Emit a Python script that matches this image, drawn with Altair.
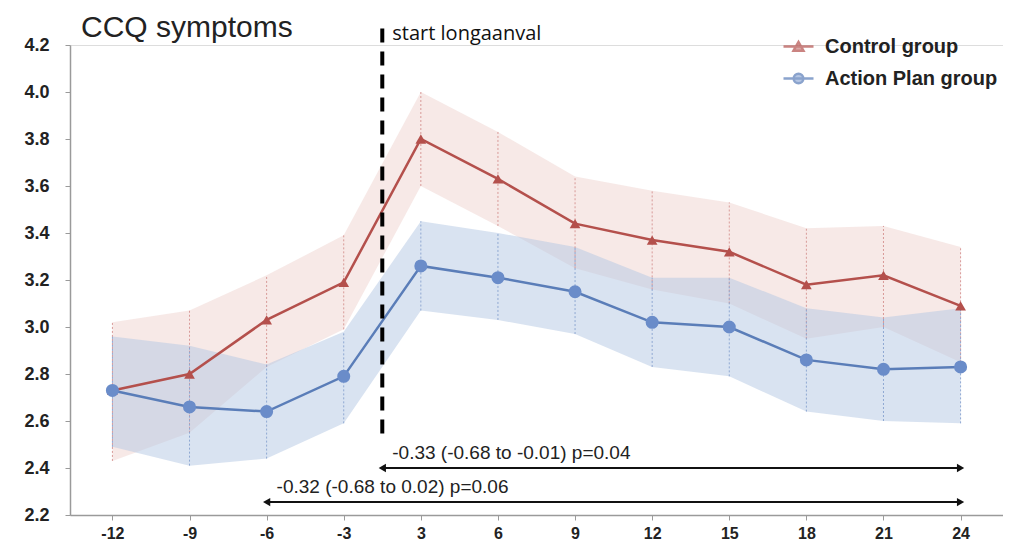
import altair as alt
import pandas as pd

# ---- data ----
months = [-12, -9, -6, -3, 3, 6, 9, 12, 15, 18, 21, 24]
month_labels = ["-12", "-9", "-6", "-3", "3", "6", "9", "12", "15", "18", "21", "24"]

control_mean = [2.73, 2.80, 3.03, 3.19, 3.80, 3.63, 3.44, 3.37, 3.32, 3.18, 3.22, 3.09]
control_upper = [3.02, 3.07, 3.22, 3.39, 4.00, 3.83, 3.64, 3.58, 3.53, 3.42, 3.43, 3.34]
control_lower = [2.43, 2.55, 2.83, 2.99, 3.60, 3.43, 3.25, 3.16, 3.10, 2.95, 3.00, 2.85]

action_mean = [2.73, 2.66, 2.64, 2.79, 3.26, 3.21, 3.15, 3.02, 3.00, 2.86, 2.82, 2.83]
action_upper = [2.96, 2.92, 2.84, 2.98, 3.45, 3.40, 3.34, 3.21, 3.21, 3.08, 3.04, 3.08]
action_lower = [2.49, 2.41, 2.44, 2.59, 3.07, 3.03, 2.97, 2.83, 2.79, 2.64, 2.60, 2.59]

groups = ["Control group", "Action Plan group"]
y_ticks = [2.2, 2.4, 2.6, 2.8, 3.0, 3.2, 3.4, 3.6, 3.8, 4.0, 4.2]

# annotation values (data space: category index / y value)
start_index = 3.5          # between -3 and 3
start_label = "start longaanval"
start_top, start_bottom, start_text_y = 4.27, 2.52, 4.245

arrow_start = [3.5, 2.0]
arrow_end = [11.0, 11.0]
arrow_y = [2.40, 2.255]
arrow_text_y = [2.465, 2.318]
arrow_labels = ["-0.33 (-0.68 to -0.01) p=0.04", "-0.32 (-0.68 to 0.02) p=0.06"]

# ---- tables ----
rows = []
for g, mean, lo, up in [
    (groups[0], control_mean, control_lower, control_upper),
    (groups[1], action_mean, action_lower, action_upper),
]:
    for i, m in enumerate(months):
        rows.append({"idx": i, "month": m, "group": g, "mean": mean[i], "lower": lo[i], "upper": up[i]})
df = pd.DataFrame(rows)

arrows = pd.DataFrame({"x1": arrow_start, "x2": arrow_end, "y": arrow_y,
                       "ty": arrow_text_y, "label": arrow_labels})
start_df = pd.DataFrame({"x": [start_index], "top": [start_top], "bottom": [start_bottom],
                         "ty": [start_text_y], "label": [start_label]})

# ---- scales / axes ----
label_expr = "[" + ",".join("'%s'" % l for l in month_labels) + "][datum.value]"
xscale = alt.Scale(domain=[-0.55, len(months) - 0.45], nice=False, zero=False)
yscale = alt.Scale(domain=[2.2, 4.2], nice=False, zero=False)
xaxis = alt.Axis(values=list(range(len(months))), labelExpr=label_expr, title=None, grid=False,
                 domainColor="#9a9a9a", domainWidth=1.5, tickColor="#9a9a9a", tickSize=5,
                 labelFont="Liberation Sans", labelFontWeight="bold", labelFontSize=16,
                 labelColor="#222222", labelPadding=5)
yaxis = alt.Axis(values=y_ticks, format=".1f", title=None, grid=False,
                 domainColor="#9a9a9a", domainWidth=1.5, tickColor="#9a9a9a", tickSize=5,
                 labelFont="Liberation Sans", labelFontWeight="bold", labelFontSize=18,
                 labelColor="#222222", labelPadding=16)

X = alt.X("idx:Q", scale=xscale, axis=xaxis)

colors = {
    groups[0]: dict(line="#b4504c", band="#efd3cf", dots="#d89a98", mark="#b4504c", shape="triangle-up", size=115),
    groups[1]: dict(line="#5a7db8", band="#b4c7e4", dots="#8fa8d2", mark="#6a8cc9", shape="circle", size=170),
}

layers = []
for g in groups:
    c = colors[g]
    base = alt.Chart(df).transform_filter(alt.datum.group == g)
    layers.append(base.mark_area(color=c["band"], opacity=0.5).encode(
        x=X, y=alt.Y("lower:Q", scale=yscale, axis=yaxis), y2="upper:Q"))
for g in groups:
    c = colors[g]
    base = alt.Chart(df).transform_filter(alt.datum.group == g)
    layers.append(base.mark_rule(color=c["dots"], strokeWidth=1, strokeDash=[2, 2]).encode(
        x=X, y=alt.Y("lower:Q", scale=yscale, axis=yaxis), y2="upper:Q"))
for g in groups:
    c = colors[g]
    base = alt.Chart(df).transform_filter(alt.datum.group == g)
    layers.append(base.mark_line(color=c["line"], strokeWidth=2.5).encode(
        x=X, y=alt.Y("mean:Q", scale=yscale, axis=yaxis)))
    layers.append(base.mark_point(shape=c["shape"], filled=True, opacity=1, color=c["mark"], size=c["size"]).encode(
        x=X, y=alt.Y("mean:Q", scale=yscale, axis=yaxis)))

# legend (custom symbols: line with marker)
tri_path = "M-1,0L1,0M-0.33,0.28L0,-0.3L0.33,0.28Z"
circ_path = "M-1,0L1,0M-0.32,0A0.32,0.32,0,1,1,0.32,0A0.32,0.32,0,1,1,-0.32,0Z"
leg = alt.Legend(title=None, orient="none", legendX=712, legendY=-15,
                 labelFont="Liberation Sans", labelFontWeight="bold", labelFontSize=20,
                 labelColor="#222222", labelLimit=400, symbolSize=900, symbolStrokeWidth=2.5,
                 labelOffset=10, rowPadding=5)
legend_layer = alt.Chart(df).transform_filter("false").mark_point(filled=True, strokeWidth=2.5).encode(
    x=X, y=alt.Y("mean:Q", scale=yscale, axis=yaxis),
    fill=alt.Fill("group:N", scale=alt.Scale(domain=groups, range=["#b4504c", "#6a8cc9"]), legend=leg),
    stroke=alt.Stroke("group:N", scale=alt.Scale(domain=groups, range=["#b4504c", "#5a7db8"]), legend=leg),
    shape=alt.Shape("group:N", scale=alt.Scale(domain=groups, range=[tri_path, circ_path]), legend=leg),
)
layers.append(legend_layer)

# start line
sbase = alt.Chart(start_df)
layers.append(sbase.mark_rule(color="black", strokeWidth=4, strokeDash=[14, 9]).encode(
    x=alt.X("x:Q", scale=xscale, axis=xaxis), y=alt.Y("top:Q", scale=yscale, axis=yaxis), y2="bottom:Q"))
layers.append(sbase.mark_text(align="left", baseline="middle", dx=10, font="Open Sans",
                              fontSize=20, color="#111111").encode(
    x=alt.X("x:Q", scale=xscale, axis=xaxis), y=alt.Y("ty:Q", scale=yscale, axis=yaxis), text="label:N"))

# arrows
abase = alt.Chart(arrows)
AX1 = alt.X("x1:Q", scale=xscale, axis=xaxis)
AY = alt.Y("y:Q", scale=yscale, axis=yaxis)
layers.append(abase.mark_rule(color="#111111", strokeWidth=2).encode(x=AX1, x2="x2:Q", y=AY))
layers.append(abase.mark_point(shape="triangle-left", filled=True, opacity=1, color="#111111", size=70).encode(x=AX1, y=AY))
layers.append(abase.mark_point(shape="triangle-right", filled=True, opacity=1, color="#111111", size=70).encode(
    x=alt.X("x2:Q", scale=xscale, axis=xaxis), y=AY))
layers.append(abase.mark_text(align="left", baseline="middle", dx=10, font="Liberation Sans",
                              fontSize=19, color="#222222").encode(
    x=AX1, y=alt.Y("ty:Q", scale=yscale, axis=yaxis), text="label:N"))

chart = alt.layer(*layers).properties(
    width=933, height=470,
    title=alt.TitleParams("CCQ symptoms", anchor="start", font="Liberation Sans", fontSize=30,
                          fontWeight="normal", color="#222222", dx=57, dy=23, offset=4),
    autosize=alt.AutoSizeParams(type="none"),
    padding={"left": 62, "top": 37, "right": 0, "bottom": 26},
).configure_view(stroke=None).configure(background="white")

chart.save("out.html", embed_options={"renderer": "svg", "actions": False})
